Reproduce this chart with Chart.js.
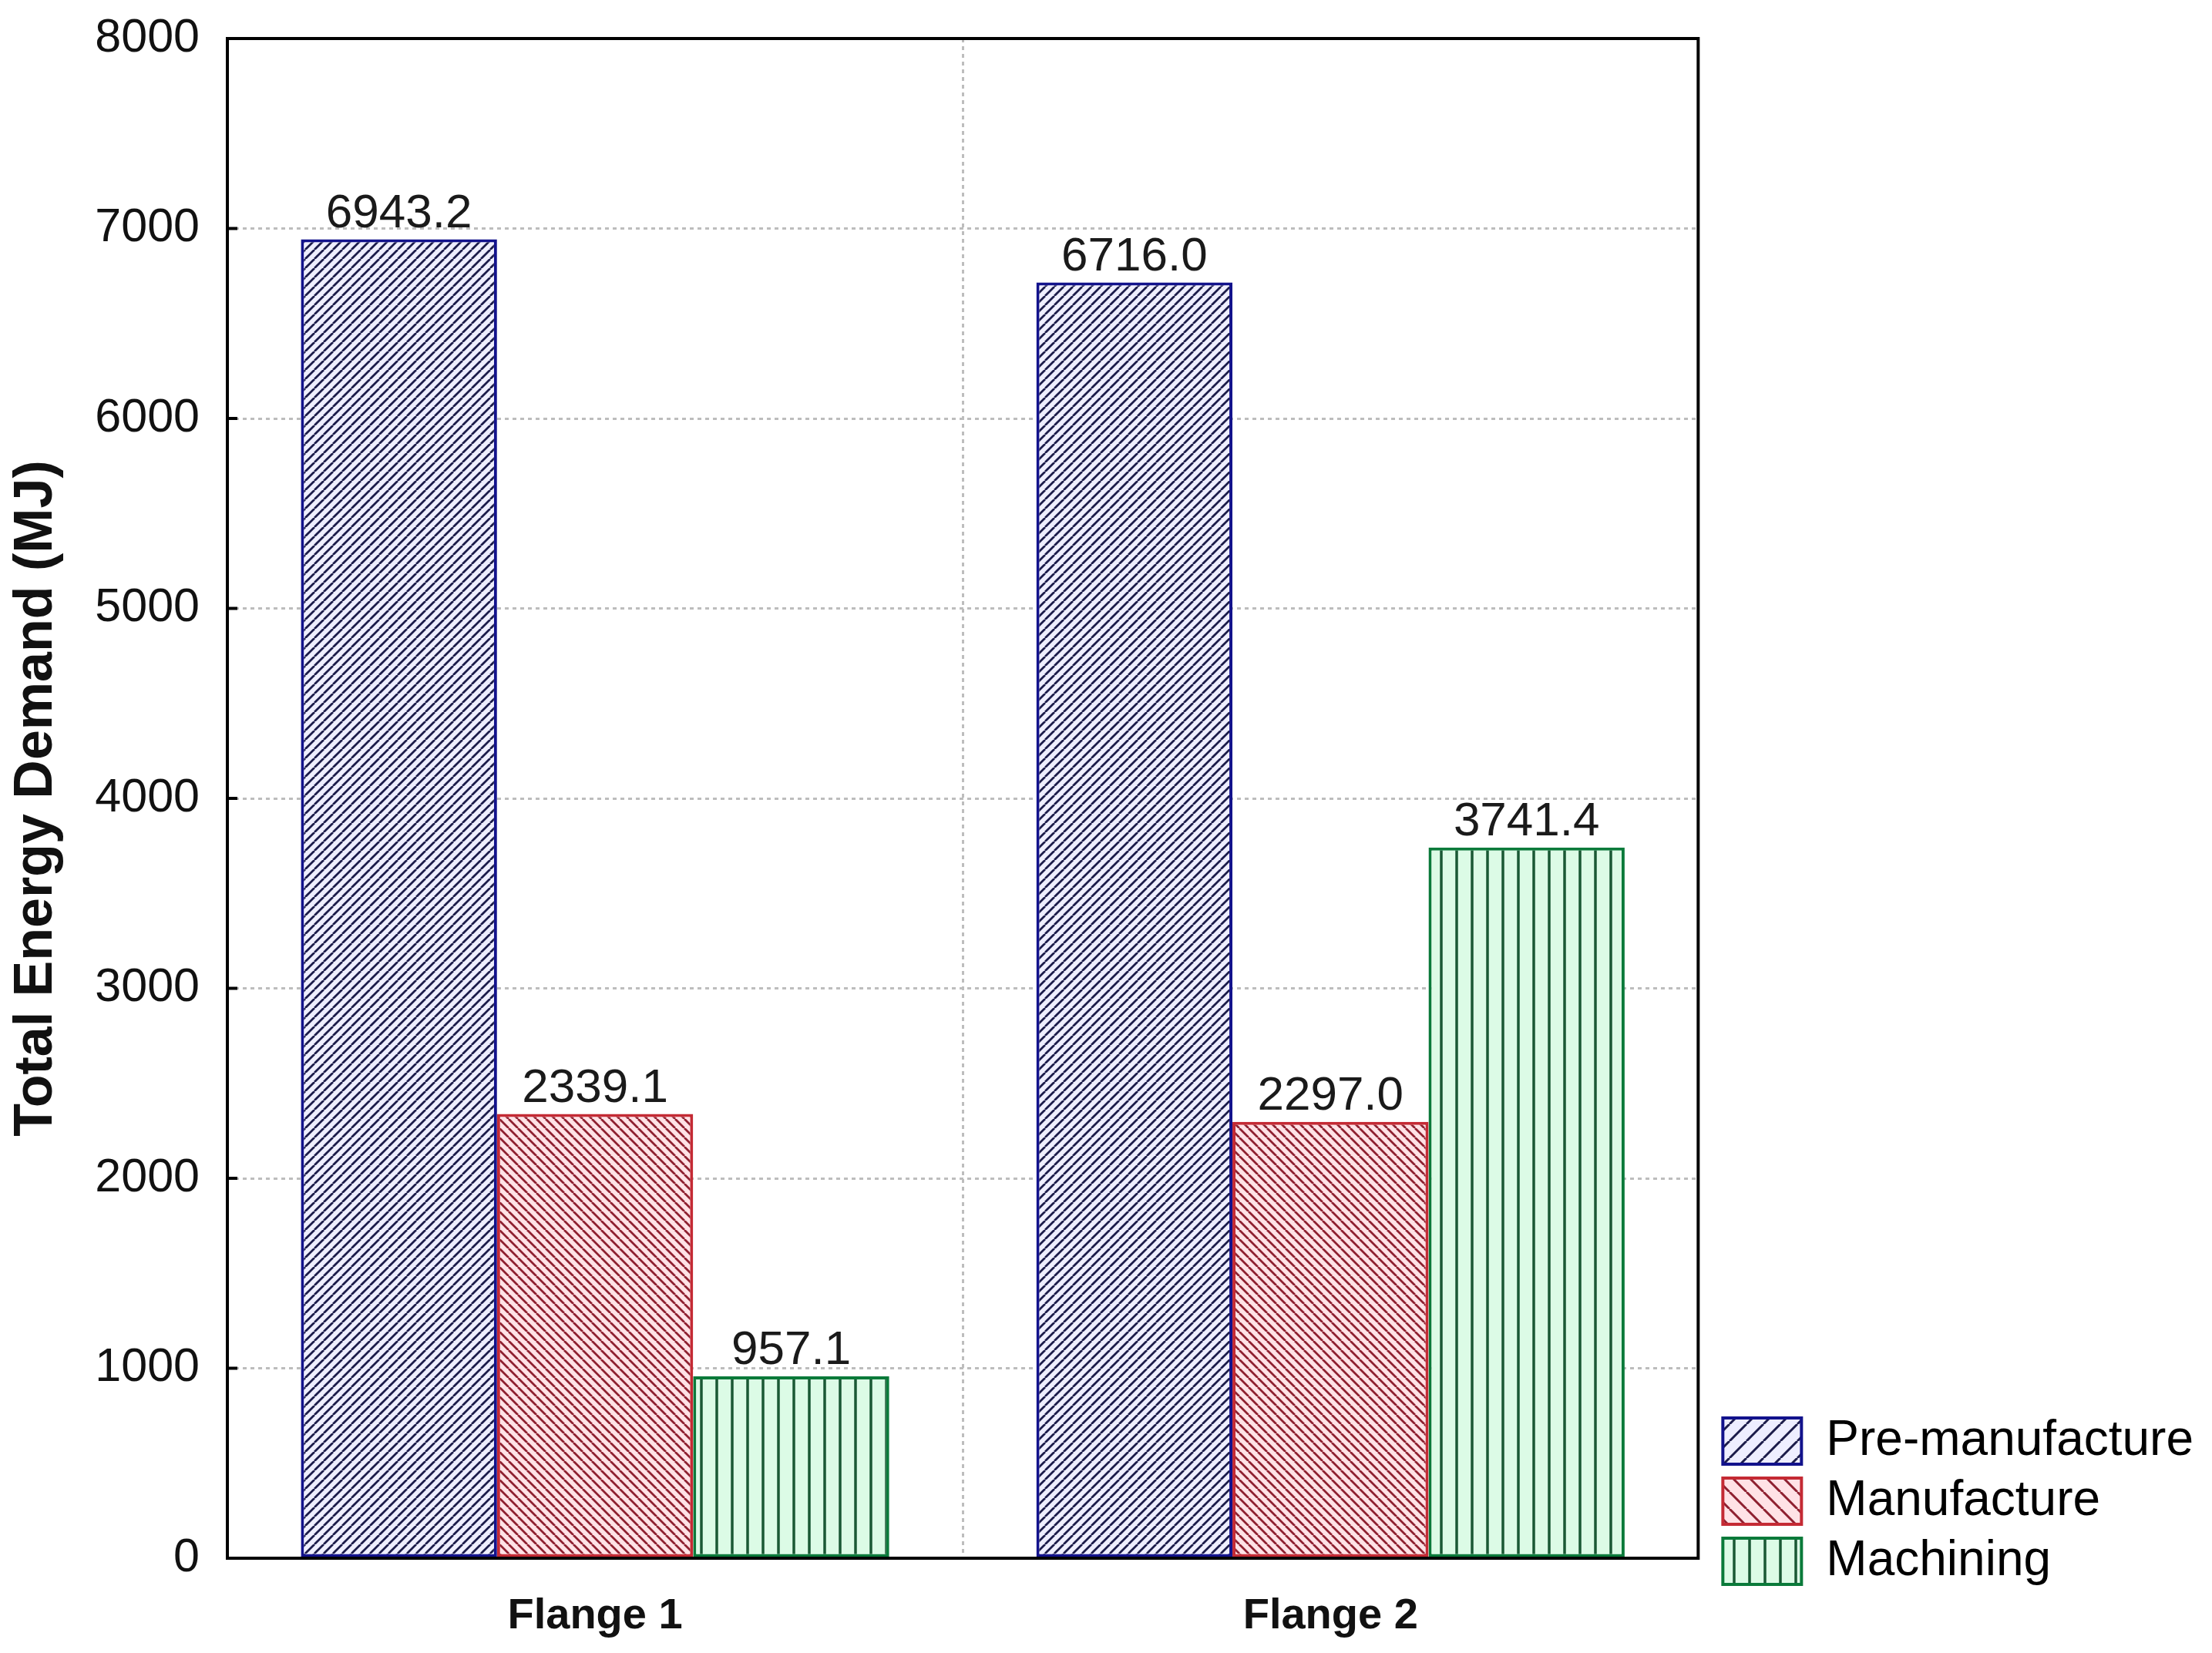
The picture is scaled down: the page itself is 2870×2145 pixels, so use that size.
<!DOCTYPE html>
<html lang="en">
<head>
  <meta charset="UTF-8" />
  <title>Total Energy Demand</title>
  <script src="https://cdn.jsdelivr.net/npm/chart.js"></script>
  <style>
    html, body { margin: 0; padding: 0; background: #fff; }
    #wrap { width: 2870px; height: 2145px; }
  </style>
</head>
<body>
  <div id="wrap"><canvas id="chart" width="2870" height="2145"></canvas></div>

  <script>
    // data
    const flanges = ['Flange 1', 'Flange 2'];
    const stages = ['Pre-manufacture', 'Manufacture', 'Machining'];
    const preManufacture = [6943.2, 6716.0];
    const manufacture = [2339.1, 2297.0];
    const machining = [957.1, 3741.4];
    const yTicks = [0, 1000, 2000, 3000, 4000, 5000, 6000, 7000, 8000];

    const canvas = document.getElementById('chart');
    const ctx = canvas.getContext('2d');

    // hatch fills
    function hatch(bg, fg, size, dir, lw) {
      const c = document.createElement('canvas');
      c.width = c.height = size;
      const g = c.getContext('2d');
      g.fillStyle = bg;
      g.fillRect(0, 0, size, size);
      g.strokeStyle = fg;
      g.lineWidth = lw;
      g.beginPath();
      if (dir === 'v') {
        g.moveTo(size / 2, 0); g.lineTo(size / 2, size);
      } else if (dir === '/') {
        for (const o of [-size, 0, size]) { g.moveTo(o, size); g.lineTo(o + size, 0); }
      } else {
        for (const o of [-size, 0, size]) { g.moveTo(o, 0); g.lineTo(o + size, size); }
      }
      g.stroke();
      return ctx.createPattern(c, 'repeat');
    }

    const blueFill = hatch('#eeeeff', '#1c1c4a', 12, '/', 2.8);
    const redFill = hatch('#ffe2e6', '#8e2030', 12, '\\', 2.8);
    const greenFill = hatch('#dcfbe6', '#1a5834', 20, 'v', 3.5);
    const legendFills = [
      hatch('#eeeeff', '#1c1c4a', 22, '/', 3),
      hatch('#ffe2e6', '#8e2030', 22, '\\', 3),
      hatch('#dcfbe6', '#1a5834', 20, 'v', 3.5)
    ];
    const borders = ['#12128c', '#c42a34', '#0a7a3a'];

    // frame around plot + inward ticks on y axis
    const framePlugin = {
      id: 'frame',
      afterDatasetsDraw(chart) {
        const a = chart.chartArea;
        const y = chart.scales.y;
        const g = chart.ctx;
        g.save();
        g.strokeStyle = '#000';
        g.lineWidth = 4;
        g.beginPath();
        yTicks.forEach(v => {
          const py = y.getPixelForValue(v);
          g.moveTo(a.left, py); g.lineTo(a.left + 13, py);
        });
        g.stroke();
        g.strokeRect(a.left, a.top, a.right - a.left, a.bottom - a.top);
        g.restore();
      }
    };

    // value labels on top of bars
    const valueLabels = {
      id: 'valueLabels',
      afterDatasetsDraw(chart) {
        const g = chart.ctx;
        g.save();
        g.font = '62px "Liberation Sans", Arial, sans-serif';
        g.fillStyle = '#1a1a1a';
        g.textAlign = 'center';
        g.textBaseline = 'bottom';
        chart.data.datasets.forEach((ds, i) => {
          chart.getDatasetMeta(i).data.forEach((bar, j) => {
            g.fillText(ds.data[j].toFixed(1), bar.x, bar.y - 2);
          });
        });
        g.restore();
      }
    };

    // nudge the legend next to the plot like the original
    const legendShift = {
      id: 'legendShift',
      afterLayout(chart) {
        const l = chart.legend;
        l.left += 18; l.right += 18;
        l.top -= 73; l.bottom -= 73;
      }
    };

    new Chart(ctx, {
      type: 'bar',
      data: {
        labels: flanges,
        datasets: [
          { label: stages[0], data: preManufacture, backgroundColor: blueFill, borderColor: borders[0] },
          { label: stages[1], data: manufacture, backgroundColor: redFill, borderColor: borders[1] },
          { label: stages[2], data: machining, backgroundColor: greenFill, borderColor: borders[2] }
        ]
      },
      options: {
        responsive: false,
        animation: false,
        layout: { padding: { top: 50, right: 32, left: 0, bottom: 0 } },
        datasets: {
          bar: { borderWidth: 4, borderSkipped: false, categoryPercentage: 0.8, barPercentage: 1.0 }
        },
        plugins: {
          tooltip: { enabled: false },
          legend: {
            position: 'right',
            align: 'end',
            labels: {
              boxWidth: 102,
              boxHeight: 60,
              padding: 14,
              color: '#111',
              font: { family: '"Liberation Sans", Arial, sans-serif', size: 64 },
              generateLabels(chart) {
                return chart.data.datasets.map((ds, i) => ({
                  text: ds.label,
                  fillStyle: legendFills[i],
                  strokeStyle: ds.borderColor,
                  lineWidth: 4,
                  hidden: false,
                  datasetIndex: i
                }));
              }
            }
          }
        },
        scales: {
          x: {
            grid: {
              offset: true,
              color: '#bdbdbd',
              lineWidth: 3,
              drawTicks: false
            },
            border: { display: false, dash: [5, 5] },
            ticks: {
              color: '#111',
              padding: 42,
              font: { family: '"Liberation Sans", Arial, sans-serif', size: 56, weight: 'bold' }
            },
            afterFit(scale) { scale.height = 123; }
          },
          y: {
            min: 0,
            max: 8000,
            afterBuildTicks(scale) { scale.ticks = yTicks.map(v => ({ value: v })); },
            grid: {
              color: '#bdbdbd',
              lineWidth: 3,
              drawTicks: false
            },
            border: { display: false, dash: [5, 5] },
            ticks: {
              color: '#111',
              padding: 36,
              font: { family: '"Liberation Sans", Arial, sans-serif', size: 61 },
              callback: v => String(v)
            },
            title: {
              display: true,
              text: 'Total Energy Demand (MJ)',
              color: '#111',
              padding: { top: 6, bottom: 0 },
              font: { family: '"Liberation Sans", Arial, sans-serif', size: 70, weight: 'bold' }
            },
            afterFit(scale) {
              scale.width = 295;
              scale.paddingTop = 0;
              scale.paddingBottom = 0;
            }
          }
        }
      },
      plugins: [framePlugin, valueLabels, legendShift]
    });
  </script>
</body>
</html>
